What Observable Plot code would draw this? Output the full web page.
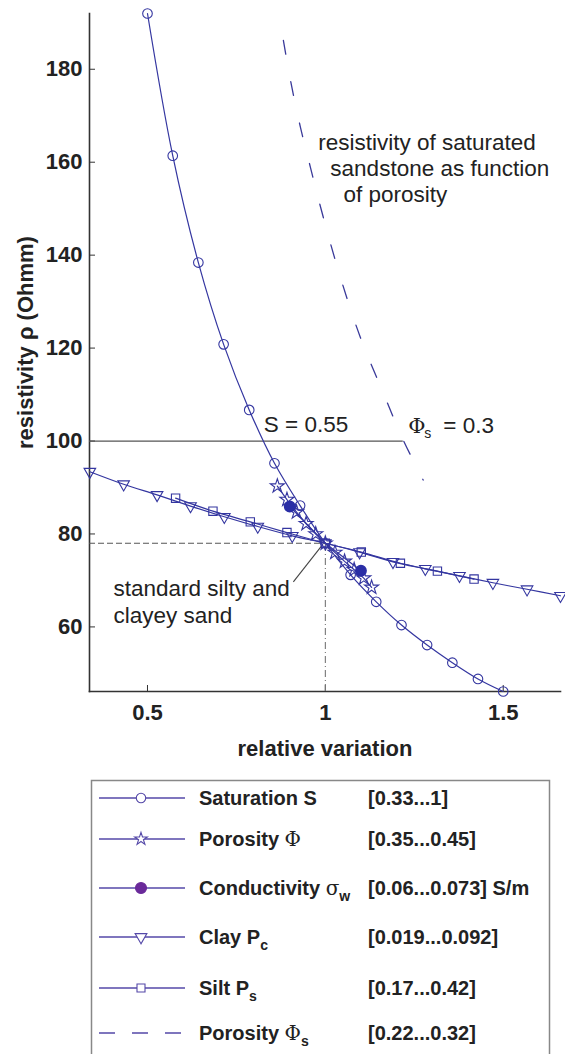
<!DOCTYPE html>
<html><head><meta charset="utf-8">
<script src="https://cdn.jsdelivr.net/npm/d3@7"></script>
<script src="https://cdn.jsdelivr.net/npm/@observablehq/plot@0.6"></script>
<style>
html,body{margin:0;padding:0;background:#fff;overflow:hidden;}
#wrap{position:relative;width:565px;height:1054px;}
#chart{position:absolute;left:0;top:0;}
#legend{position:absolute;left:0;top:775px;}
</style></head><body><div id="wrap"><div id="chart"></div><div id="legend"></div></div>
<script>
// ---------- data ----------
const xTicks = [0.5, 1, 1.5];
const yTicks = [60, 80, 100, 120, 140, 160, 180];
const xDomain = [0.337, 1.661];
const yDomain = [46.1, 192];

const satX = [0.5, 0.571, 0.643, 0.714, 0.786, 0.857, 0.929, 1.0, 1.071, 1.143, 1.214, 1.286, 1.357, 1.429, 1.5];
const satY = [192, 161.4, 138.4, 120.8, 106.7, 95.2, 86.1, 78, 71.2, 65.4, 60.4, 56.1, 52.3, 48.8, 46.1];

const porX = [0.865, 0.892, 0.919, 0.946, 0.973, 1.0, 1.027, 1.054, 1.081, 1.108, 1.13];
const porY = [90.3, 87.4, 84.7, 82.2, 80.0, 78, 76.0, 74.1, 72.3, 70.5, 68.5];

const condX = [0.9, 1.0, 1.1];
const condY = [85.9, 78, 72.1];

const clayX = [0.338, 0.433, 0.527, 0.621, 0.716, 0.81, 0.907, 1.0, 1.096, 1.19, 1.281, 1.377, 1.471, 1.567, 1.661];
const clayY = [93.4, 90.7, 88.4, 86.0, 83.7, 81.6, 79.6, 78, 76.1, 74.0, 72.5, 71.0, 69.5, 68.1, 66.7];

const siltX = [0.579, 0.684, 0.789, 0.892, 1.0, 1.101, 1.211, 1.315, 1.418];
const siltY = [87.7, 84.9, 82.6, 80.3, 78, 76.1, 73.7, 72.0, 70.3];

const phisX = [0.882, 0.902, 0.930, 0.958, 0.994, 1.042, 1.098, 1.163, 1.219, 1.275];
const phisY = [186.2, 177.6, 167.5, 158.9, 148.2, 135.3, 122.4, 110.3, 100.2, 91.6];

// reference lines
const sRule = [{y: 100, x1: 0.337, x2: 1.219}];
const stdH = [{y: 78, x1: 0.337, x2: 1.0}];
const stdV = [{x: 1.0, y1: 46.1, y2: 78}];

// annotations
const noteLines = [
  {x: 0.980, y: 164.1, text: "resistivity of saturated"},
  {x: 1.014, y: 158.5, text: "sandstone as function"},
  {x: 1.051, y: 152.9, text: "of porosity"},
  {x: 0.827, y: 103.4, text: "S = 0.55"},
  {x: 0.4045, y: 68.2, text: "standard silty and"},
  {x: 0.4045, y: 62.4, text: "clayey sand"}
];
const phiNote = [{x: 1.233, y: 103.2}];
const leader = [{x1: 0.910, y1: 69.7, x2: 0.989, y2: 77.4}];

const yLabel = "resistivity ρ (Ohmm)";
const xLabel = "relative variation";

const legendItems = [
  {parts: [["Saturation S", "b"]], range: "[0.33...1]", sym: "circle"},
  {parts: [["Porosity ", "b"], ["Φ", "g"]], range: "[0.35...0.45]", sym: "star"},
  {parts: [["Conductivity ", "b"], ["σ", "g"], ["w", "sub"]], range: "[0.06...0.073] S/m", sym: "filled"},
  {parts: [["Clay P", "b"], ["c", "sub"]], range: "[0.019...0.092]", sym: "tri"},
  {parts: [["Silt P", "b"], ["s", "sub"]], range: "[0.17...0.42]", sym: "square"},
  {parts: [["Porosity ", "b"], ["Φ", "g"], ["s", "sub"]], range: "[0.22...0.32]", sym: "dash"}
];

// ---------- build tables ----------
const zip = (xs, ys) => xs.map((x, i) => ({x, y: ys[i]}));
const sat = zip(satX, satY), por = zip(porX, porY), cond = zip(condX, condY),
      clay = zip(clayX, clayY), silt = zip(siltX, siltY), phis = zip(phisX, phisY);

const blue = "#3436a0";
const sqrt3 = Math.sqrt(3);
const triangleDown = {
  draw(ctx, size) {
    const y = Math.sqrt(size / (sqrt3 * 3));
    ctx.moveTo(0, y * 2);
    ctx.lineTo(-sqrt3 * y, -y);
    ctx.lineTo(sqrt3 * y, -y);
    ctx.closePath();
  }
};

const font = "'Liberation Sans', Arial, Helvetica, sans-serif";
const serif = "'DejaVu Serif', 'Liberation Serif', serif";

const chart = Plot.plot({
  width: 565, height: 765,
  marginLeft: 89, marginRight: 5, marginTop: 13, marginBottom: 74,
  x: {domain: xDomain},
  y: {domain: yDomain},
  style: {fontFamily: font, background: "white", color: "#222"},
  marks: [
    // axis lines
    Plot.frame({anchor: "left", stroke: "#333", strokeWidth: 1.6}),
    Plot.frame({anchor: "bottom", stroke: "#333", strokeWidth: 1.6}),
    // inward ticks
    Plot.axisX({ticks: xTicks, tickSize: -6, tickFormat: () => "", label: null, stroke: "#333"}),
    Plot.axisY({ticks: yTicks, tickSize: -6, tickFormat: () => "", label: null, stroke: "#333"}),
    // tick labels
    Plot.axisX({ticks: xTicks, tickSize: 0, tickPadding: 13, fontSize: 22, fontWeight: "bold", label: null, fill: "#222", tickFormat: d => String(d)}),
    Plot.axisY({ticks: yTicks, tickSize: 0, tickPadding: 7, fontSize: 22, fontWeight: "bold", label: null, fill: "#222", tickFormat: d => String(d)}),
    // axis titles
    Plot.text([yLabel], {frameAnchor: "left", textAnchor: "middle", lineAnchor: "middle", rotate: -90, dx: -64, dy: -10, fontSize: 22, fontWeight: "bold", fill: "#222"}),
    Plot.text([xLabel], {frameAnchor: "bottom", textAnchor: "middle", lineAnchor: "middle", dy: 57, fontSize: 22, fontWeight: "bold", fill: "#222"}),
    // reference lines
    Plot.ruleY(sRule, {y: "y", x1: "x1", x2: "x2", stroke: "#555", strokeWidth: 1.3}),
    Plot.ruleY(stdH, {y: "y", x1: "x1", x2: "x2", stroke: "#555", strokeWidth: 1.1, strokeDasharray: "6,3"}),
    Plot.ruleX(stdV, {x: "x", y1: "y1", y2: "y2", stroke: "#777", strokeWidth: 1.1, strokeDasharray: "7,3,1,3"}),
    Plot.link(leader, {x1: "x1", y1: "y1", x2: "x2", y2: "y2", stroke: "#444", strokeWidth: 1.1}),
    // porosity of sandstone (dashed)
    Plot.line(phis, {x: "x", y: "y", stroke: "#3a3a9a", strokeWidth: 1.3, strokeDasharray: "14,28", curve: "catmull-rom"}),
    // lines
    Plot.line(clay, {x: "x", y: "y", stroke: blue, strokeWidth: 1.2, curve: "catmull-rom"}),
    Plot.line(silt, {x: "x", y: "y", stroke: blue, strokeWidth: 1.2, curve: "catmull-rom"}),
    Plot.line(sat, {x: "x", y: "y", stroke: blue, strokeWidth: 1.2, curve: "catmull-rom"}),
    Plot.line(por, {x: "x", y: "y", stroke: blue, strokeWidth: 1.2}),
    Plot.line(cond, {x: "x", y: "y", stroke: blue, strokeWidth: 1.2}),
    // markers
    Plot.dot(clay, {x: "x", y: "y", symbol: triangleDown, r: 4.3, stroke: blue, fill: "none", strokeWidth: 1.1}),
    Plot.dot(silt, {x: "x", y: "y", symbol: "square", r: 4.7, stroke: blue, fill: "none", strokeWidth: 1.1}),
    Plot.dot(sat, {x: "x", y: "y", symbol: "circle", r: 4.8, stroke: blue, fill: "none", strokeWidth: 1.1}),
    Plot.dot(por, {x: "x", y: "y", symbol: "star", r: 4.4, stroke: blue, fill: "none", strokeWidth: 1.1}),
    Plot.dot(cond.filter((d, i) => i !== 1), {x: "x", y: "y", symbol: "circle", r: 5.2, fill: "#2a2ea6", stroke: "#2a2ea6"}),
    // annotations
    Plot.text(noteLines, {x: "x", y: "y", text: "text", textAnchor: "start", fontSize: 22.5, fill: "#222"}),
    Plot.text(phiNote, {x: "x", y: "y", text: () => "Φ", textAnchor: "start", fontSize: 21, fontFamily: serif, fill: "#222"}),
    Plot.text(phiNote, {x: "x", y: "y", text: () => "s", textAnchor: "start", dx: 16, dy: 7, fontSize: 14, fill: "#222"}),
    Plot.text(phiNote, {x: "x", y: "y", text: () => "= 0.3", textAnchor: "start", dx: 35, fontSize: 22.5, fill: "#222"})
  ]
});
document.getElementById("chart").appendChild(chart);

// ---------- legend ----------
const lcol = "#5448a8";
const lsvg = d3.select("#legend").append("svg").attr("width", 565).attr("height", 285)
  .style("font-family", font);
lsvg.append("rect").attr("x", 91.5).attr("y", 5.5).attr("width", 458).attr("height", 290)
  .attr("fill", "none").attr("stroke", "#888").attr("stroke-width", 1.5);
const rowY = [23, 64, 113, 162, 213, 258];
const symMap = {circle: d3.symbolCircle, star: d3.symbolStar, filled: d3.symbolCircle, tri: triangleDown, square: d3.symbolSquare};
const sizeMap = {circle: 70, star: 50, filled: 95, tri: 60, square: 64};
legendItems.forEach((it, i) => {
  const y = rowY[i];
  const g = lsvg.append("g");
  if (it.sym === "dash") {
    g.append("line").attr("x1", 99).attr("x2", 185).attr("y1", y).attr("y2", y)
      .attr("stroke", lcol).attr("stroke-width", 1.3).attr("stroke-dasharray", "16,17");
  } else {
    g.append("line").attr("x1", 99).attr("x2", 185).attr("y1", y).attr("y2", y)
      .attr("stroke", lcol).attr("stroke-width", 1.3);
    g.append("path").attr("transform", `translate(141,${y})`)
      .attr("d", d3.symbol(symMap[it.sym], sizeMap[it.sym])())
      .attr("fill", it.sym === "filled" ? "#6a2a9a" : "white")
      .attr("stroke", it.sym === "filled" ? "#6a2a9a" : lcol).attr("stroke-width", 1.1);
  }
  const t = g.append("text").attr("x", 199).attr("y", y + 7).attr("font-size", 20)
    .attr("font-weight", "bold").attr("fill", "#222");
  it.parts.forEach(([s, kind]) => {
    const ts = t.append("tspan").text(s);
    if (kind === "g") ts.attr("font-family", serif).attr("font-weight", "normal");
    if (kind === "sub") ts.attr("font-size", 14).attr("dy", 6);
  });
  g.append("text").attr("x", 368).attr("y", y + 7).attr("font-size", 20)
    .attr("font-weight", "bold").attr("fill", "#222").text(it.range);
});
</script></body></html>
